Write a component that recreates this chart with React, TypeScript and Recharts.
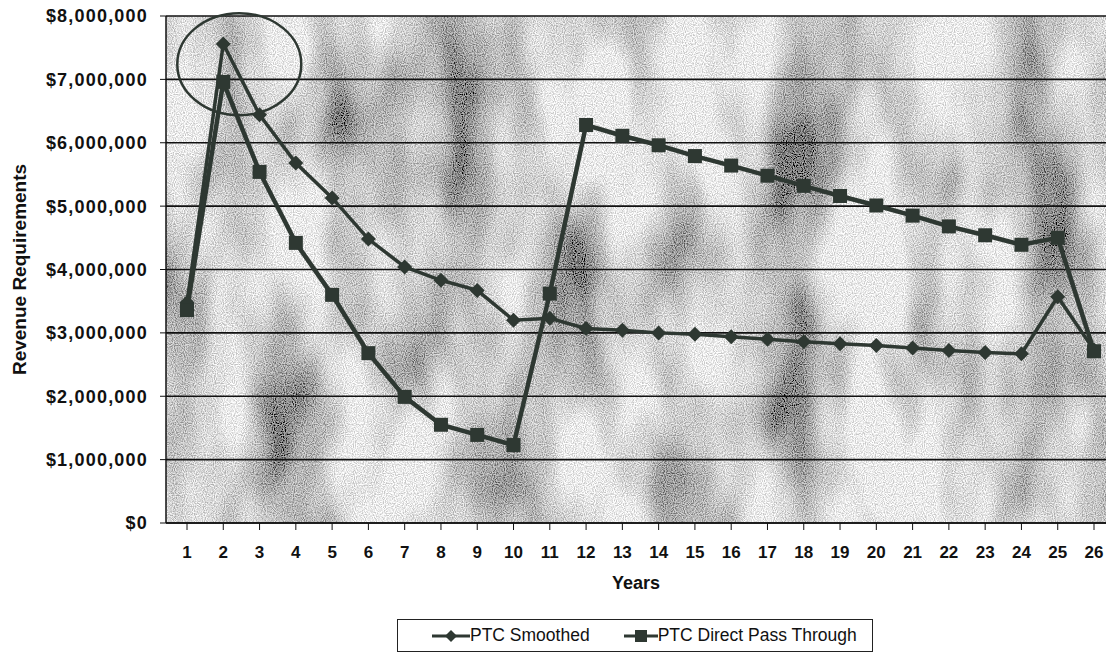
import React from 'react';
import { LineChart, Line, XAxis, YAxis, CartesianGrid, ReferenceDot } from 'recharts';

const years = ['1','2','3','4','5','6','7','8','9','10','11','12','13','14','15','16','17','18','19','20','21','22','23','24','25','26'];
const smoothed = [3480000, 7560000, 6440000, 5680000, 5130000, 4480000, 4040000, 3830000, 3670000, 3200000, 3230000, 3070000, 3040000, 3000000, 2980000, 2940000, 2900000, 2860000, 2830000, 2800000, 2760000, 2720000, 2690000, 2670000, 3570000, 2730000];
const direct = [3360000, 6960000, 5540000, 4420000, 3600000, 2680000, 1990000, 1550000, 1390000, 1230000, 3620000, 6280000, 6110000, 5960000, 5790000, 5640000, 5480000, 5320000, 5160000, 5010000, 4850000, 4680000, 4540000, 4390000, 4500000, 2710000];
const yTicks = [0, 1000000, 2000000, 3000000, 4000000, 5000000, 6000000, 7000000, 8000000];
const seriesNames = ['PTC Smoothed', 'PTC Direct Pass Through'];
const highlightYear = '2';
const highlightValue = 7240000;

const data = years.map((y, i) => ({ year: y, smoothed: smoothed[i], direct: direct[i] }));

const LINE = '#2e3832';
const FONT = 'Arial, "Liberation Sans", sans-serif';

const fmt = (v: number) => '$' + v.toLocaleString('en-US');

const Diamond = (props: any) => {
  const { cx, cy } = props;
  if (cx == null || cy == null) return null;
  const r = 7.5;
  return <polygon points={`${cx},${cy - r} ${cx + r},${cy} ${cx},${cy + r} ${cx - r},${cy}`} fill={LINE} />;
};
const Square = (props: any) => {
  const { cx, cy } = props;
  if (cx == null || cy == null) return null;
  const r = 7;
  return <rect x={cx - r} y={cy - r} width={2 * r} height={2 * r} fill={LINE} />;
};

const Ellipse = (props: any) => {
  const { cx, cy } = props;
  if (cx == null || cy == null) return null;
  return <ellipse cx={cx + 16} cy={cy} rx={62} ry={51} fill="none" stroke={LINE} strokeWidth={2.5} />;
};

export default function App() {
  return (
    <div style={{ position: 'absolute', left: 0, top: 0, width: 1108, height: 654, background: '#fff', fontFamily: FONT }}>
      <LineChart width={1108} height={654} data={data} margin={{ top: 16, right: 2, bottom: 61, left: 0 }}>
        <defs>
          <filter id="noiseF" x="0" y="0" width="100%" height="100%">
            <feTurbulence type="fractalNoise" baseFrequency="0.012 0.005" numOctaves="3" seed="7" result="big" />
            <feColorMatrix in="big" type="matrix" values="2.4 0 0 0 -0.55  2.4 0 0 0 -0.55  2.4 0 0 0 -0.55  0 0 0 0 1" result="bigG" />
            <feTurbulence type="fractalNoise" baseFrequency="0.9" numOctaves="1" seed="3" result="fine" />
            <feColorMatrix in="fine" type="matrix" values="2.6 0 0 0 -0.8  2.6 0 0 0 -0.8  2.6 0 0 0 -0.8  0 0 0 0 1" result="fineG" />
            <feComposite in="bigG" in2="fineG" operator="arithmetic" k1="0" k2="0.62" k3="0.5" k4="-0.04" />
          </filter>
          <pattern id="tex" patternUnits="userSpaceOnUse" x="0" y="0" width="1108" height="654">
            <rect x="0" y="0" width="1108" height="654" filter="url(#noiseF)" />
          </pattern>
        </defs>
        <CartesianGrid vertical={false} stroke="#111" strokeWidth={1.6} fill="url(#tex)" fillOpacity={1} />
        <XAxis
          dataKey="year"
          height={70}
          padding={{ left: 21, right: 12 }}
          tick={{ fill: '#111', fontSize: 17, fontWeight: 'bold', fontFamily: FONT }}
          tickLine={{ stroke: '#111' }}
          tickSize={7}
          tickMargin={16}
          axisLine={{ stroke: '#111', strokeWidth: 1.5 }}
          interval={0}
          label={{ value: 'Years', position: 'insideBottom', offset: 4, fill: '#111', fontSize: 18, fontWeight: 'bold', fontFamily: FONT }}
        />
        <YAxis
          width={166}
          domain={[0, 8000000]}
          ticks={yTicks}
          tickFormatter={fmt}
          interval={0}
          tick={{ fill: '#111', fontSize: 18, fontWeight: 'bold', fontFamily: FONT, letterSpacing: 1.2 }}
          tickLine={{ stroke: '#111' }}
          tickSize={6}
          tickMargin={12}
          axisLine={{ stroke: '#111', strokeWidth: 1.5 }}
          label={{ value: 'Revenue Requirements', angle: -90, position: 'insideLeft', offset: 19, fill: '#111', fontSize: 19, fontWeight: 'bold', fontFamily: FONT, style: { textAnchor: 'middle' } }}
        />
        <Line dataKey="smoothed" name={seriesNames[0]} stroke={LINE} strokeWidth={3.5} dot={<Diamond />} activeDot={false} isAnimationActive={false} />
        <Line dataKey="direct" name={seriesNames[1]} stroke={LINE} strokeWidth={4.5} dot={<Square />} activeDot={false} isAnimationActive={false} />
        <ReferenceDot x={highlightYear} y={highlightValue} shape={<Ellipse />} />
      </LineChart>
      <div style={{ position: 'absolute', left: 397, top: 619, width: 476, height: 33, boxSizing: 'border-box', border: '1.5px solid #222', display: 'flex', alignItems: 'center', paddingLeft: 34, fontSize: 17.5, color: '#111', fontFamily: FONT }}>
        <div style={{ display: 'flex', alignItems: 'center' }}>
          <svg width={38} height={14}>
            <line x1={0} y1={7} x2={38} y2={7} stroke={LINE} strokeWidth={3} />
            <polygon points="19,1 25,7 19,13 13,7" fill={LINE} />
          </svg>
          <span>{seriesNames[0]}</span>
        </div>
        <div style={{ display: 'flex', alignItems: 'center', marginLeft: 34 }}>
          <svg width={34} height={14}>
            <line x1={0} y1={7} x2={34} y2={7} stroke={LINE} strokeWidth={3} />
            <rect x={11} y={1} width={12} height={12} fill={LINE} />
          </svg>
          <span>{seriesNames[1]}</span>
        </div>
      </div>
    </div>
  );
}
